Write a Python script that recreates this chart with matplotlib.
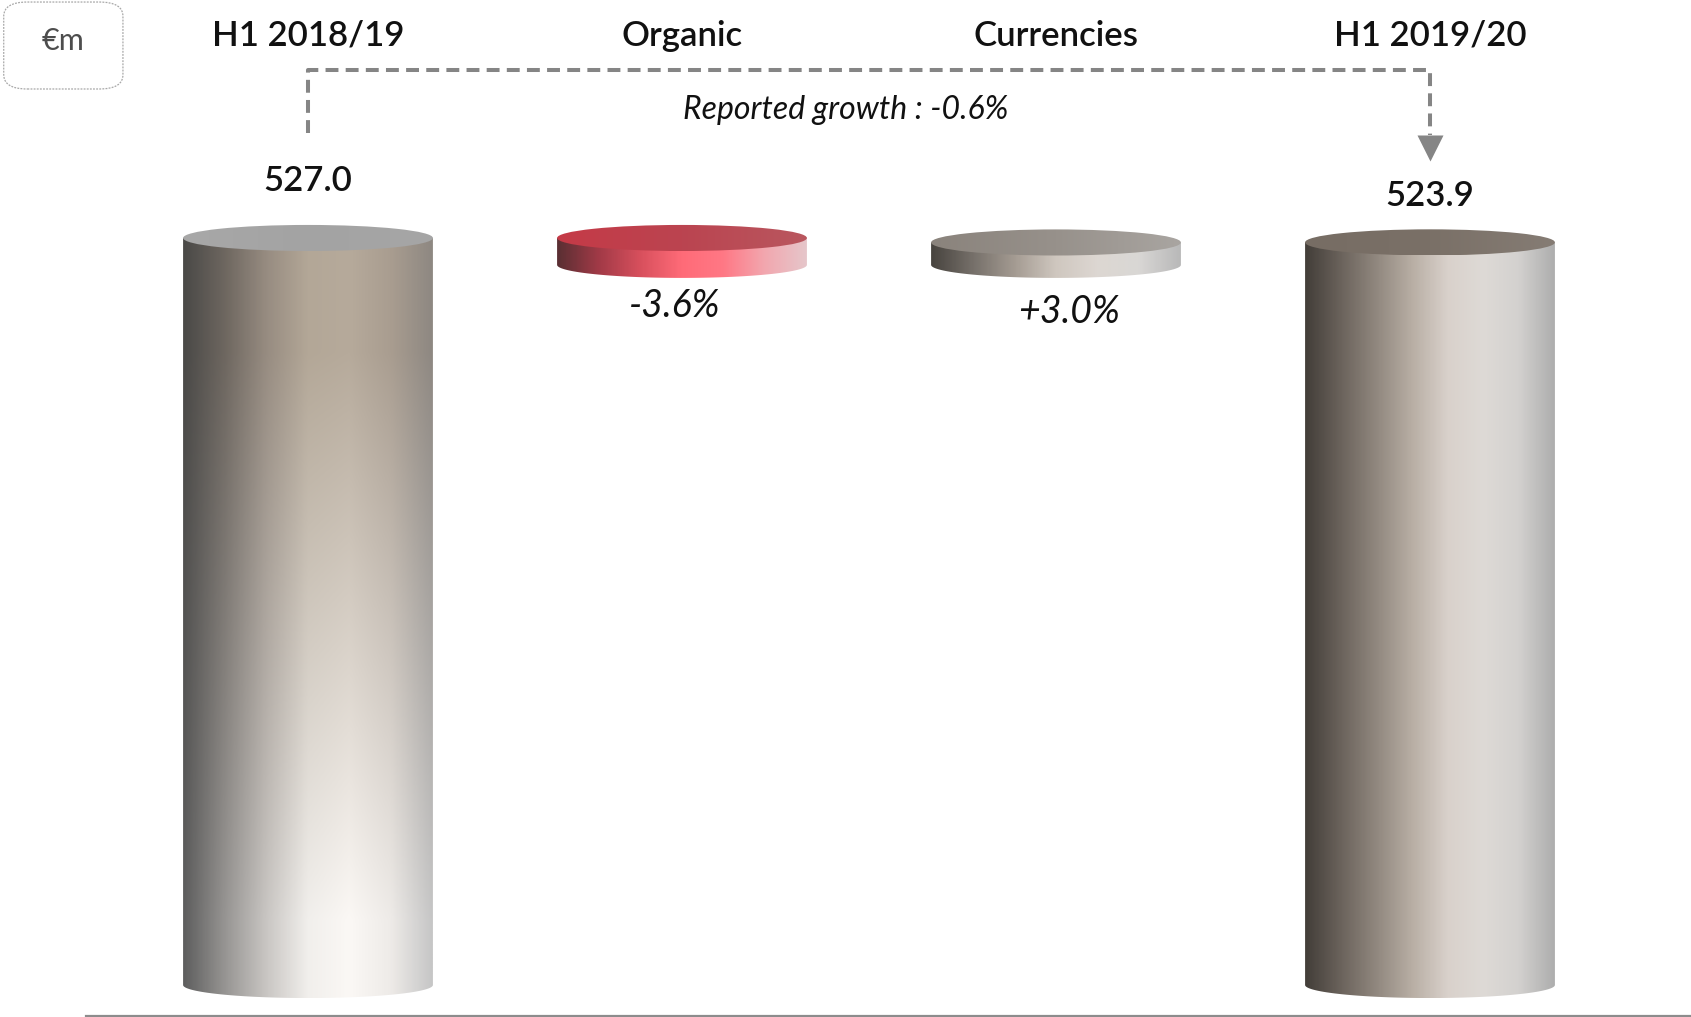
# -*- coding: utf-8 -*-
import numpy as np
import matplotlib
matplotlib.use('Agg')
import matplotlib.pyplot as plt
from matplotlib.patches import Ellipse, PathPatch, FancyBboxPatch
from matplotlib.path import Path
from matplotlib.colors import LinearSegmentedColormap, to_rgb

plt.rcParams['font.family'] = ['Lato', 'DejaVu Sans']

# data
categories = ['H1 2018/19', 'Organic', 'Currencies', 'H1 2019/20']
start_value = 527.0
end_value = 523.9
change_labels = ['-3.6%', '+3.0%']
change_pct = [-3.6, 3.0]
reported_label = 'Reported growth : -0.6%'
unit_label = '€m'

# waterfall levels
organic_end = start_value * (1 + change_pct[0] / 100)
curr_end = organic_end + start_value * change_pct[1] / 100
bottoms = [0, organic_end, organic_end, 0]
tops = [start_value, start_value, curr_end, end_value]

# horizontal colour profiles for the cylinder sides
side_bar1_top = ['#4a4947', '#6e6760', '#978c81', '#b3a797', '#b6aa9b', '#a99d90', '#8e8882']
side_bar1_bot = ['#5e5e5e', '#979593', '#c9c6c3', '#f1efec', '#fbf8f5', '#eeebe8', '#c6c6c6']
side_org = ['#5a2f33', '#a23a47', '#d8505d', '#ff6b78', '#ff7885', '#f2a7af', '#e6c6ca']
side_cur = ['#48443f', '#76706a', '#a49b92', '#cfc7bf', '#ddd7d2', '#d9d7d5', '#b9b9b9']
side_bar4 = ['#433e39', '#6b635c', '#91887f', '#b8aea4', '#d9d1cb', '#dedad6', '#d3d1cf', '#aeaeae']
top_faces = [['#a8a8a8', '#a3a3a3', '#a6a6a6'],
             ['#c53a47', '#bb4450', '#b9575f'],
             ['#8a837c', '#97918b', '#a9a5a1'],
             ['#776d64', '#7a7067', '#857c74']]

W = 0.334    # half width of a cylinder (category units)
EH = 9.2     # half height of the ellipses (value units)


def profile(colors, n=300):
    cmap = LinearSegmentedColormap.from_list('p', [to_rgb(c) for c in colors])
    return cmap(np.linspace(0, 1, n))[:, :3]


def cylinder(ax, x, bottom, top, side, top_face, side_bottom=None):
    t = np.linspace(np.pi, 2 * np.pi, 80)
    verts = [(x - W, top), (x - W, bottom)]
    verts += list(zip(x + W * np.cos(t), bottom + EH * np.sin(t)))
    verts += [(x + W, top), (x - W, top)]
    codes = [Path.MOVETO] + [Path.LINETO] * (len(verts) - 2) + [Path.CLOSEPOLY]
    body = PathPatch(Path(verts, codes), facecolor='none', edgecolor='none')
    ax.add_patch(body)
    prof = profile(side)
    if side_bottom is None:
        img = np.tile(prof[None, :, :], (2, 1, 1))
    else:
        prof2 = profile(side_bottom)
        v = np.linspace(0, 1, 200)[:, None, None]
        v = np.clip((v - 0.15) / 0.75, 0, 1)
        img = prof[None, :, :] * (1 - v) + prof2[None, :, :] * v
    im = ax.imshow(img, extent=[x - W, x + W, bottom - EH, top], origin='upper',
                   aspect='auto', interpolation='bilinear', zorder=2)
    im.set_clip_path(body)
    # top face
    face = Ellipse((x, top), 2 * W, 2 * EH, facecolor='none', edgecolor='none')
    ax.add_patch(face)
    fimg = np.tile(profile(top_face)[None, :, :], (2, 1, 1))
    im2 = ax.imshow(fimg, extent=[x - W, x + W, top - EH, top + EH],
                    aspect='auto', interpolation='bilinear', zorder=3)
    im2.set_clip_path(face)


fig = plt.figure(figsize=(16.91, 10.17), dpi=100)
ax = fig.add_axes([0, 0, 1, 1])
ax.axis('off')

sides = [side_bar1_top, side_org, side_cur, side_bar4]
for i in range(len(categories)):
    cylinder(ax, i, bottoms[i], tops[i], sides[i], top_faces[i],
             side_bar1_bot if i == 0 else None)

# category headers
for i, c in enumerate(categories):
    ax.text(i, 669.5, c, ha='center', va='center', fontsize=25,
            fontweight='semibold', color='#111111')

# value labels
ax.text(0, start_value + 40, '%.1f' % start_value, ha='center', va='center',
        fontsize=25, fontweight='semibold', color='#111111')
ax.text(3, end_value + 33, '%.1f' % end_value, ha='center', va='center',
        fontsize=25, fontweight='semibold', color='#111111')
ax.text(1 - 0.02, organic_end - 29, change_labels[0], ha='center', va='center',
        fontsize=27, style='italic', color='#111111')
ax.text(2 + 0.035, organic_end - 33, change_labels[1], ha='center', va='center',
        fontsize=27, style='italic', color='#111111')

# reported growth connector
ax.plot([0, 0, 3, 3], [601, 645.5, 645.5, 600], color='#858585', lw=2.9,
        dashes=(3.2, 1.8), solid_joinstyle='miter', zorder=4)
ax.plot([3], [590.8], marker='v', ms=19, color='#858585', mec='none', zorder=4)
ax.text(1.437, 617, reported_label, ha='center', va='center', fontsize=23,
        style='italic', color='#111111')

# baseline
ax.axhline(-21.9, xmin=86 / 1691, xmax=1, color='#8c8c8c', lw=1.6)

# unit box
box = FancyBboxPatch((0.0022, 0.9125), 0.0705, 0.0855,
                     boxstyle='round,pad=0.0,rounding_size=0.014',
                     transform=fig.transFigure, facecolor='white',
                     edgecolor='#a8a8a8', lw=0.9, linestyle=(0, (1.5, 1.0)))
fig.patches.append(box)
fig.text(63 / 1691, 1 - 41 / 1017, unit_label, ha='center', va='center',
         fontsize=22, color='#4d4d4d')

ax.set_xlim(-308 / 374, (1691 - 308) / 374)
ax.set_ylim(-32 / 1.4175, -32 / 1.4175 + 1017 / 1.4175)

fig.savefig('out.png', dpi=100)
